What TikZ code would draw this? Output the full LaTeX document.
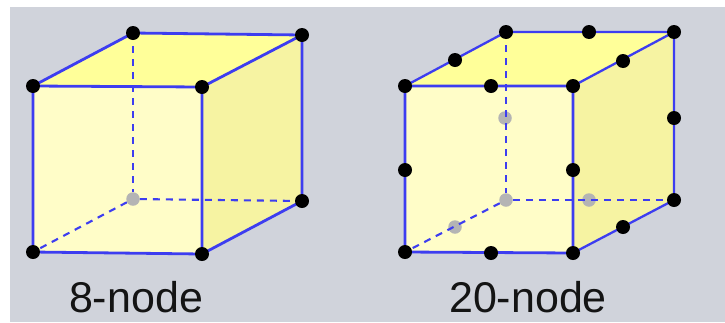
\documentclass[tikz,border=0pt]{standalone}
\usepackage{fontspec}
\setmainfont{Liberation Sans}
\definecolor{bg}{HTML}{D0D3DB}
\definecolor{topf}{HTML}{FFFF99}
\definecolor{frontf}{HTML}{FFFDC8}
\definecolor{sidef}{HTML}{F6F3A2}
\definecolor{edge}{HTML}{3D3DF0}
\definecolor{hid}{HTML}{B4B4B4}
\tikzset{
 vis/.style={circle,fill=black,inner sep=0pt,minimum size=14pt},
 hidn/.style={circle,fill=hid,inner sep=0pt,minimum size=13.5pt},
 solidedge/.style={draw=edge,line width=2.8pt},
 thinedge/.style={draw=edge,line width=2.3pt},
 dashedge/.style={draw=edge,line width=2.1pt,dash pattern=on 7pt off 6pt},
 lbl/.style={font=\fontsize{43}{43}\selectfont,text=black!92,inner sep=0pt,anchor=base}
}
\begin{document}
\begin{tikzpicture}[x=1pt,y=-1pt]
\useasboundingbox (0,0) rectangle (725,322);
\fill[white] (0,0) rectangle (725,322);
\fill[bg] (10,7) rectangle (725,322);
% left cube
\coordinate (a1) at (33,86); \coordinate (a2) at (202,87); \coordinate (a3) at (202,254); \coordinate (a4) at (33,252);
\coordinate (a5) at (133,33); \coordinate (a6) at (302,35); \coordinate (a7) at (302,201); \coordinate (a8) at (133,199);
\fill[topf] (a1)--(a5)--(a6)--(a2)--cycle;
\fill[sidef] (a2)--(a6)--(a7)--(a3)--cycle;
\fill[frontf] (a1)--(a2)--(a3)--(a4)--cycle;
\node[hidn] (n8) at (a8) {};
\draw[dashedge] (a5)--(n8);
\draw[dashedge] (n8)--(a7);
\draw[dashedge] (n8)--(a4);
\draw[solidedge] (a1)--(a2)--(a3)--(a4)--cycle;
\draw[solidedge] (a2)--(a6)--(a7)--(a3);
\draw[solidedge] (a1)--(a5)--(a6);
\foreach \n in {1,...,7} \node[vis] (n\n) at (a\n) {};
\node[lbl] (t1) at (136,312) {8-node};
% right cube
\coordinate (b1) at (405,86); \coordinate (b2) at (573,86); \coordinate (b3) at (573,253); \coordinate (b4) at (405,252);
\coordinate (b5) at (506,32); \coordinate (b6) at (674,32); \coordinate (b7) at (674,200); \coordinate (b8) at (506,200);
\fill[topf] (b1)--(b5)--(b6)--(b2)--cycle;
\fill[sidef] (b2)--(b6)--(b7)--(b3)--cycle;
\fill[frontf] (b1)--(b2)--(b3)--(b4)--cycle;
\node[hidn] (m8) at (b8) {};
\node[hidn] (h1) at (505,118) {};
\node[hidn] (h2) at (589,200) {};
\node[hidn] (h3) at (455,227) {};
\draw[dashedge] (b5)--(m8);
\draw[dashedge] (m8)--(b7);
\draw[dashedge] (m8)--(b4);
\draw[solidedge] (b1)--(b2)--(b3)--(b4)--cycle;
\draw[thinedge] (b2)--(b6)--(b7)--(b3);
\draw[thinedge] (b1)--(b5)--(b6);
\foreach \n in {1,...,7} \node[vis] (m\n) at (b\n) {};
\foreach \p/\q in {455/60,589/32,623/61,491/86,674/118,405/170,573/170,623/227,491/253}
  \node[vis] (e\p\q) at (\p,\q) {};
\node[lbl] (t2) at (528,312) {20-node};
\end{tikzpicture}
\end{document}
